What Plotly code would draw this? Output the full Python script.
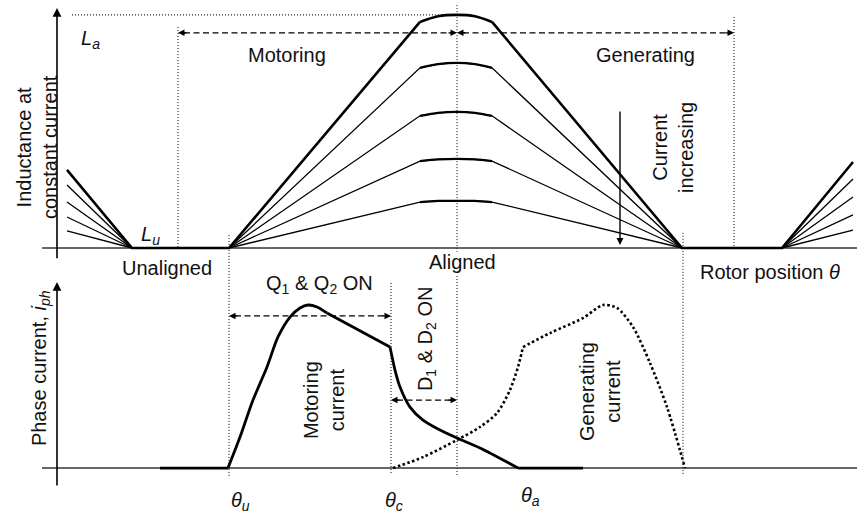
import plotly.graph_objects as go

# ---------------- characteristic rotor angles (deg) ----------------
THETA_U = 17.2        # overlap starts (end of unaligned region)
THETA_C = 33.4        # commutation angle
THETA_ALIGNED = 40.0  # aligned position
THETA_OFF = 62.6      # overlap ends on the falling side
MOTOR_START = 12.1    # start of motoring region
GEN_END = 67.7        # end of generating region

# ---------------- inductance profiles (normalised to L_a) ----------------
theta_ind_thick = [1.0, 7.5, 17.2, 36.3, 38.1, 40.0, 41.8, 43.5, 62.5, 72.5, 79.6]
L_thick = [0.335, 0.0, 0.0, 0.970, 0.994, 1.000, 0.994, 0.970, 0.0, 0.0, 0.369]

theta_ind = [1.0, 7.5, None, 17.2, 36.3, 38.1, 40.0, 41.8, 43.5, 62.5, None, 72.5, 79.6]
L_curve2 = [0.270, 0.0, None, 0.0, 0.773, 0.789, 0.794, 0.789, 0.773, 0.0, None, 0.0, 0.296]
L_curve3 = [0.197, 0.0, None, 0.0, 0.567, 0.580, 0.584, 0.580, 0.567, 0.0, None, 0.0, 0.219]
L_curve4 = [0.133, 0.0, None, 0.0, 0.373, 0.380, 0.382, 0.380, 0.373, 0.0, None, 0.0, 0.142]
L_curve5 = [0.073, 0.0, None, 0.0, 0.197, 0.202, 0.202, 0.202, 0.197, 0.0, None, 0.0, 0.077]

# ---------------- phase currents (normalised to peak) ----------------
theta_mot = [10.3, 17.1, 18.3, 19.6, 21.0, 22.1, 23.3, 24.3, 25.1, 26.0, 27.0, 33.3,
             33.8, 34.3, 35.3, 36.6, 38.3, 40.0, 42.3, 46.1, 52.6]
i_mot = [0.0, 0.0, 0.19, 0.417, 0.62, 0.804, 0.926, 0.982, 1.0, 0.988, 0.951, 0.742,
         0.601, 0.497, 0.374, 0.294, 0.233, 0.184, 0.123, 0.0, 0.0]

theta_gen = [33.6, 36.6, 40.0, 42.3, 44.0, 45.3, 46.1, 46.6, 49.3, 52.6, 54.6, 56.0,
             57.6, 59.3, 61.0, 62.8]
i_gen = [0.0, 0.067, 0.172, 0.252, 0.337, 0.479, 0.62, 0.742, 0.828, 0.920, 1.0, 0.982,
         0.865, 0.644, 0.374, 0.0]

FONT = "Liberation Sans, Arial, sans-serif"
FS = 20

fig = go.Figure()


def add_line(x, y, yaxis, width, dash=None, smooth=False):
    fig.add_trace(go.Scatter(
        x=x, y=y, yaxis=yaxis, mode="lines", connectgaps=False,
        line=dict(color="black", width=width, dash=dash,
                  shape="spline" if smooth else "linear",
                  smoothing=0.8 if smooth else None),
        hoverinfo="skip", showlegend=False))


# inductance family (thin curves first, thick curve on top)
for Lc in (L_curve2, L_curve3, L_curve4, L_curve5):
    add_line(theta_ind, Lc, "y", 1.3)
    add_line(theta_ind[4:9], Lc[4:9], "y", 2.2, smooth=True)
add_line(theta_ind_thick[:4], L_thick[:4], "y", 2.6)
add_line(theta_ind_thick[3:8], L_thick[3:8], "y", 2.6, smooth=True)
add_line(theta_ind_thick[7:], L_thick[7:], "y", 2.6)

# motoring current: flat, smooth rise, linear fall to commutation, smooth decay
add_line(theta_mot[0:2], i_mot[0:2], "y2", 2.8)
add_line(theta_mot[1:11], i_mot[1:11], "y2", 2.8, smooth=True)
add_line(theta_mot[10:12], i_mot[10:12], "y2", 2.8)
add_line(theta_mot[11:20], i_mot[11:20], "y2", 2.8, smooth=True)
add_line(theta_mot[19:], i_mot[19:], "y2", 2.8)

# generating current (dotted)
GDOT = "2.5px,2.5px"
add_line(theta_gen[0:8], i_gen[0:8], "y2", 2.6, dash=GDOT, smooth=True)
add_line(theta_gen[7:], i_gen[7:], "y2", 2.6, dash=GDOT, smooth=True)

shapes = []


def seg(x0, y0, x1, y1, yref, width=1.0, dash="1px,2px", color="black"):
    shapes.append(dict(type="line", x0=x0, y0=y0, x1=x1, y1=y1, xref="x", yref=yref,
                       line=dict(color=color, width=width, dash=dash), layer="below"))


# axis base lines
seg(-1.5, 0, 80, 0, "y", width=1.6, dash="solid", color="#333333")
seg(-1.5, 0, 80, 0, "y2", width=1.6, dash="solid", color="#333333")

# dotted guide lines
seg(1.5, 1.0, THETA_ALIGNED, 1.0, "y")
seg(MOTOR_START, 0.948, MOTOR_START, 0, "y")
seg(GEN_END, 0.991, GEN_END, 0, "y")
seg(THETA_U, 0.543, THETA_U, 0.070, "paper")
seg(THETA_OFF, 0.547, THETA_OFF, 0.076, "paper")
seg(THETA_ALIGNED, 0.990, THETA_ALIGNED, 0.510, "paper")
seg(THETA_ALIGNED, 0.463, THETA_ALIGNED, 0.076, "paper")
seg(THETA_C, 1.135, THETA_C, -0.043, "y2")

# dashed region markers
DASH = "6px,3.5px"
seg(MOTOR_START + 0.6, 0.923, THETA_ALIGNED - 0.6, 0.923, "y", width=1.3, dash=DASH)
seg(THETA_ALIGNED + 0.6, 0.923, GEN_END - 0.6, 0.923, "y", width=1.3, dash=DASH)
seg(THETA_U + 0.6, 0.933, THETA_C - 0.6, 0.933, "y2", width=1.3, dash=DASH)
seg(THETA_C + 0.6, 0.417, THETA_ALIGNED - 0.6, 0.417, "y2", width=1.3, dash=DASH)

annotations = []


def arrow(x, y, ax, ay, yref, width=1.3, head=2, size=1.0):
    annotations.append(dict(x=x, y=y, ax=ax, ay=ay, xref="x", yref=yref, axref="x",
                            ayref=yref, showarrow=True, arrowhead=head, arrowsize=size,
                            arrowwidth=width, arrowcolor="black", text=""))


# y-axes with arrow tips
arrow(0, 1.03, 0, -0.05, "y", width=1.6, size=1.1)
arrow(0, 1.141, 0, -0.117, "y2", width=1.6, size=1.1)

# arrow heads of the dashed markers
arrow(MOTOR_START, 0.923, MOTOR_START + 1.0, 0.923, "y")
arrow(THETA_ALIGNED, 0.923, THETA_ALIGNED - 1.0, 0.923, "y")
arrow(THETA_ALIGNED, 0.923, THETA_ALIGNED + 1.0, 0.923, "y")
arrow(GEN_END, 0.923, GEN_END - 1.0, 0.923, "y")
arrow(THETA_U, 0.933, THETA_U + 1.0, 0.933, "y2")
arrow(THETA_C, 0.933, THETA_C - 1.0, 0.933, "y2")
arrow(THETA_C, 0.417, THETA_C + 1.0, 0.417, "y2")
arrow(THETA_ALIGNED, 0.417, THETA_ALIGNED - 1.0, 0.417, "y2")

# current increasing arrow
arrow(56.3, 0.013, 56.3, 0.592, "y", width=1.4)


def label(text, x, y, yref, angle=0, size=FS):
    annotations.append(dict(text=text, x=x, y=y, xref="x", yref=yref, showarrow=False,
                            textangle=angle, xanchor="center", yanchor="middle",
                            font=dict(family=FONT, size=size, color="#111111")))


label("<i>L<sub>a</sub></i>", 3.3, 0.893, "y")
label("<i>L<sub>u</sub></i>", 9.3, 0.052, "y")
label("Inductance at<br>constant current", -2.0, 0.433, "y", angle=-90)
label("Motoring", 23.0, 0.828, "y")
label("Generating", 58.8, 0.828, "y")
label("Current<br>increasing", 61.6, 0.429, "y", angle=-90)
label("Unaligned", 11.0, 0.4786, "paper")
label("Aligned", 40.5, 0.4903, "paper")
label("Rotor position <i>θ</i>", 71.3, 0.4708, "paper")
label("Q<sub>1</sub> &amp; Q<sub>2</sub> ON", 26.2, 1.123, "y2")
label("D<sub>1</sub> &amp; D<sub>2</sub> ON", 36.9, 0.791, "y2", angle=-90)
label("Motoring<br>current", 26.7, 0.417, "y2", angle=-90)
label("Generating<br>current", 54.3, 0.466, "y2", angle=-90)
label("Phase current, <i>i<sub>ph</sub></i>", -1.7, 0.613, "y2", angle=-90)
label("<i>θ<sub>u</sub></i>", 18.3, -0.205, "y2")
label("<i>θ<sub>c</sub></i>", 33.7, -0.205, "y2")
label("<i>θ<sub>a</sub></i>", 47.3, -0.175, "y2")

fig.update_layout(
    width=857, height=514,
    margin=dict(l=0, r=0, t=0, b=0),
    paper_bgcolor="white", plot_bgcolor="white",
    xaxis=dict(range=[-5.7, 80], visible=False, fixedrange=True),
    yaxis=dict(range=[-0.060, 1.064], domain=[0.4903, 1.0], visible=False, fixedrange=True),
    yaxis2=dict(range=[-0.282, 1.264], domain=[0.0, 0.4903], visible=False,
                fixedrange=True, anchor="x"),
    shapes=shapes,
    annotations=annotations,
    hovermode=False,
    font=dict(family=FONT, size=FS, color="#111111"),
)

fig.write_html("out.html", config={"displayModeBar": False})
